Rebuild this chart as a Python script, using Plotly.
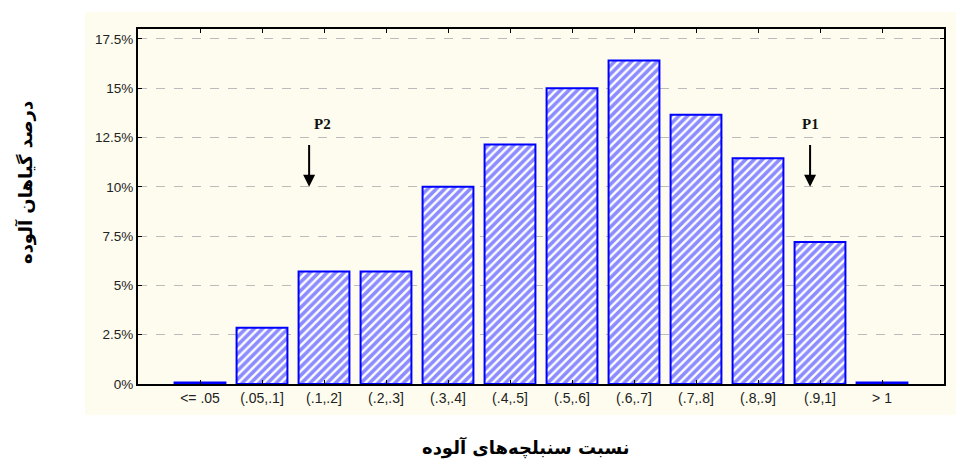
import plotly.graph_objects as go

categories = ["<= .05", "(.05,.1]", "(.1,.2]", "(.2,.3]", "(.3,.4]", "(.4,.5]",
              "(.5,.6]", "(.6,.7]", "(.7,.8]", "(.8,.9]", "(.9,1]", "> 1"]
values = [0.08, 2.85, 5.7, 5.7, 10.0, 12.15, 15.0, 16.4, 13.65, 11.45, 7.2, 0.08]
y_ticks = [0, 2.5, 5, 7.5, 10, 12.5, 15, 17.5]
y_ticktext = ["0%", "2.5%", "5%", "7.5%", "10%", "12.5%", "15%", "17.5%"]
markers = [{"label": "P2", "x": 1.76, "tx": 1.97}, {"label": "P1", "x": 9.84, "tx": 9.84}]
arrow_top, arrow_tip, label_y = 12.2, 10.0, 13.2

x_title = "نسبت سنبلچه‌های آلوده"
y_title = "درصد گیاهان آلوده"

# page offset (browser body margin) compensation: figure drawn at (8, 8)
OFF = 8
W, H = 964 - OFF, 470 - OFF
PL, PR, PT, PB = 138, 944, 29, 384  # plot box in page pixels
PW, PH = PR - PL, PB - PT


def px(xp):
    return (xp - PL) / PW


def py(yp):
    return (PB - yp) / PH


fig = go.Figure()
fig.add_trace(go.Bar(
    x=list(range(len(categories))), y=values, width=0.82,
    marker=dict(color="white", line=dict(color="#0000FF", width=2),
                pattern=dict(shape="/", fgcolor="#1A1AFF", bgcolor="white",
                             size=6, solidity=0.6)),
    showlegend=False, hoverinfo="skip"))

annotations = []
for m in markers:
    annotations.append(dict(x=m["x"], y=arrow_tip, ax=m["x"], ay=arrow_top,
                            xref="x", yref="y", axref="x", ayref="y",
                            showarrow=True, arrowhead=2, arrowsize=1.2,
                            arrowwidth=2, arrowcolor="black", text=""))
    annotations.append(dict(x=m["tx"], y=label_y, xref="x", yref="y",
                            text="<b>%s</b>" % m["label"], showarrow=False,
                            font=dict(family="Liberation Serif", size=15, color="#111")))
annotations.append(dict(x=px(525), y=py(447), xref="paper", yref="paper",
                        xanchor="center", yanchor="middle",
                        text="<b>%s</b>" % x_title, showarrow=False,
                        font=dict(family="DejaVu Sans", size=18, color="black")))
annotations.append(dict(x=px(25), y=py(183), xref="paper", yref="paper",
                        xanchor="center", yanchor="middle",
                        text="<b>%s</b>" % y_title, showarrow=False, textangle=-90,
                        font=dict(family="DejaVu Sans", size=18, color="black")))

fig.update_layout(
    width=W, height=H,
    margin=dict(l=PL - OFF, r=W - (PR - OFF), t=PT - OFF, b=H - (PB - OFF)),
    paper_bgcolor="white", plot_bgcolor="white",
    annotations=annotations,
    shapes=[dict(type="rect", xref="paper", yref="paper",
                 x0=px(85), x1=px(964 + 10),
                 y0=py(415), y1=py(12),
                 fillcolor="#FEFCEE", line=dict(width=0), layer="below")],
    font=dict(family="Liberation Sans", size=13, color="#222"),
)
fig.update_xaxes(range=[-1, 12], tickvals=list(range(len(categories))), ticktext=categories,
                 showline=True, linecolor="black", linewidth=2, mirror="ticks",
                 ticks="inside", ticklen=4, tickcolor="black", showgrid=False,
                 tickfont=dict(size=14))
fig.update_yaxes(range=[0, 18.0], tickvals=y_ticks, ticktext=y_ticktext,
                 showline=True, linecolor="black", linewidth=2, mirror="ticks",
                 ticks="inside", ticklen=4, tickcolor="black",
                 showgrid=True, gridcolor="#BBBBBB", griddash="dash", gridwidth=1,
                 zeroline=False, tickfont=dict(size=13.5))

fig.write_html("out.html")
